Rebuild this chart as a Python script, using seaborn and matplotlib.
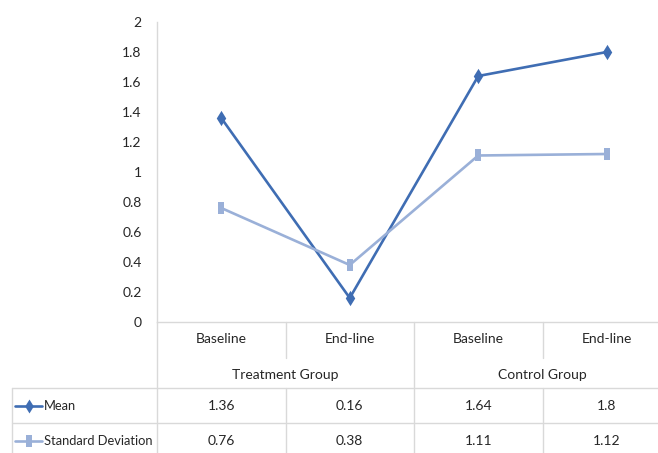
import numpy as np
import pandas as pd
import matplotlib
matplotlib.use("Agg")
import matplotlib.pyplot as plt
import matplotlib.transforms as mtransforms
from matplotlib.lines import Line2D
import seaborn as sns

# Data
categories = ["Baseline", "End-line", "Baseline", "End-line"]
groups = ["Treatment Group", "Control Group"]
mean_values = [1.36, 0.16, 1.64, 1.8]
sd_values = [0.76, 0.38, 1.11, 1.12]
series_names = ["Mean", "Standard Deviation"]
y_ticks = [0, 0.2, 0.4, 0.6, 0.8, 1, 1.2, 1.4, 1.6, 1.8, 2]

sns.set_theme(style="white")
plt.rcParams["font.family"] = ["Lato", "DejaVu Sans"]

TEXT = "#262626"
GRID = "#d9d9d9"
FS = 10
colors = {"Mean": "#3f6db3", "Standard Deviation": "#9ab0d8"}

# tall diamond / tall square markers
diamond = np.array([(0, 1), (0.62, 0), (0, -1), (-0.62, 0), (0, 1)])
rect = np.array([(-0.55, -1), (0.55, -1), (0.55, 1), (-0.55, 1), (-0.55, -1)])
markers = {"Mean": diamond, "Standard Deviation": rect}
msizes = {"Mean": 11, "Standard Deviation": 9}

W, H = 658, 453
fig = plt.figure(figsize=(W / 100, H / 100), dpi=100)


def fx(px):
    return px / W


def fy(py):
    return 1 - py / H


col_w = 128.5
ax_left, ax_top, ax_bottom = 157, 22, 322
ax = fig.add_axes([fx(ax_left), fy(ax_bottom), fx(4 * col_w), (ax_bottom - ax_top) / H])

rows = []
for name, vals in zip(series_names, [mean_values, sd_values]):
    for i, v in enumerate(vals):
        rows.append({"pos": i, "value": v, "series": name})
df = pd.DataFrame(rows)

for name in series_names:
    sns.lineplot(data=df[df["series"] == name], x="pos", y="value",
                 color=colors[name], marker=markers[name], linewidth=1.9,
                 markersize=msizes[name], markeredgewidth=0, legend=False, ax=ax)

ax.set_xlim(-0.5, 3.5)
ax.set_ylim(0, 2)
ax.set_yticks(y_ticks)
ax.set_yticklabels([f"{t:g}" for t in y_ticks], fontsize=FS, color=TEXT)
ax.set_xticks([])
ax.set_xlabel("")
ax.set_ylabel("")
ax.tick_params(axis="y", length=0, pad=11)
for s in ["top", "right"]:
    ax.spines[s].set_visible(False)
for s in ["left", "bottom"]:
    ax.spines[s].set_color(GRID)
    ax.spines[s].set_linewidth(1.0)

# data table under the axis
bt = mtransforms.blended_transform_factory(ax.transData, fig.transFigure)


def vline(xd, y0, y1):
    fig.add_artist(Line2D([xd, xd], [fy(y0), fy(y1)], transform=bt,
                          color=GRID, lw=1.0))


def hline(x0, x1, y):
    fig.add_artist(Line2D([fx(x0), fx(x1)], [fy(y), fy(y)],
                          transform=fig.transFigure, color=GRID, lw=1.0))


row_top, row_mid = 388, 423
vline(-0.5, ax_bottom, H)
vline(1.5, ax_bottom, H)
for xd in [0.5, 2.5]:
    vline(xd, ax_bottom, 358)
    vline(xd, row_top, H)
hline(12, W, row_top)
hline(12, W, row_mid)
fig.add_artist(Line2D([fx(12), fx(12)], [fy(row_top), fy(H)],
                      transform=fig.transFigure, color=GRID, lw=1.0))

for i, c in enumerate(categories):
    fig.text(i, fy(339), c, transform=bt, ha="center", va="center",
             fontsize=FS, color=TEXT)
for g, gi in zip(groups, [0.5, 2.5]):
    fig.text(gi, fy(375), g, transform=bt, ha="center", va="center",
             fontsize=FS, color=TEXT)

row_centers = [406, 441]
for name, vals, yc in zip(series_names, [mean_values, sd_values], row_centers):
    for i, v in enumerate(vals):
        fig.text(i, fy(yc), f"{v:g}", transform=bt, ha="center", va="center",
                 fontsize=FS, color=TEXT)
    fig.add_artist(Line2D([fx(15), fx(42)], [fy(yc), fy(yc)],
                          transform=fig.transFigure, color=colors[name], lw=1.9))
    fig.add_artist(Line2D([fx(29)], [fy(yc)], transform=fig.transFigure,
                          marker=markers[name], markersize=msizes[name] - 1,
                          markeredgewidth=0, color=colors[name], linestyle="none"))
    fig.text(fx(44), fy(yc), name, ha="left", va="center",
             fontsize=9.3, color=TEXT)

fig.savefig("out.png", dpi=100)
